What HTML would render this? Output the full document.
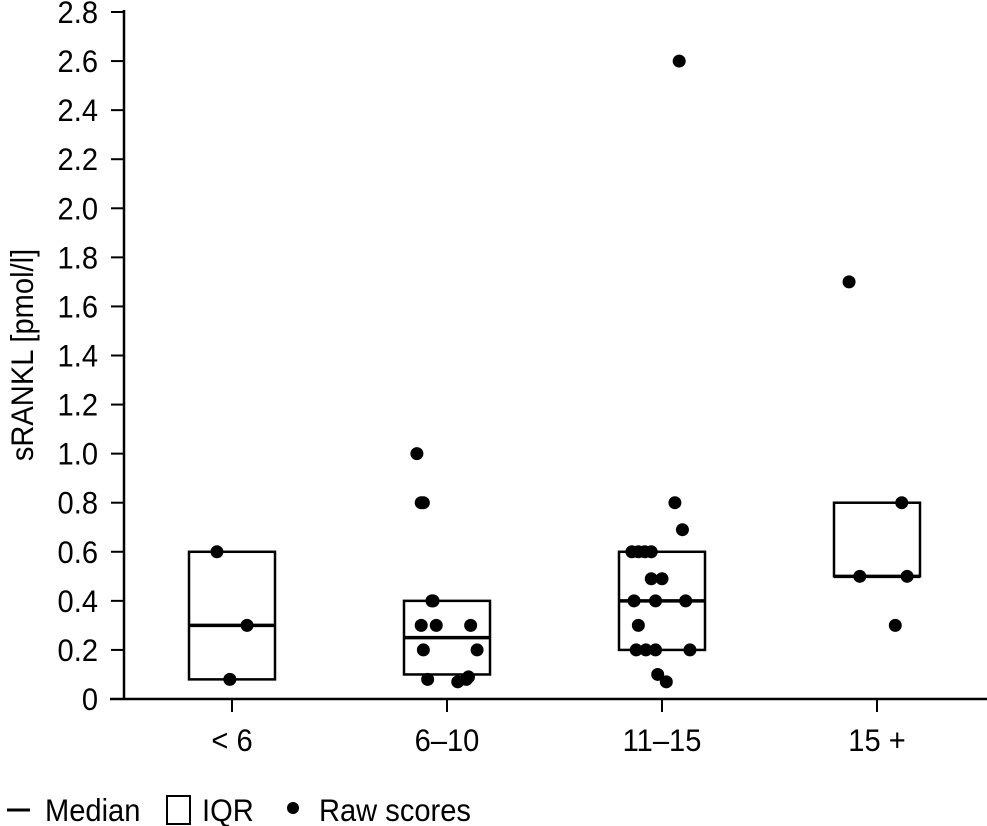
<!DOCTYPE html>
<html><head><meta charset="utf-8">
<style>
html,body{margin:0;padding:0;background:#fff;width:987px;height:826px;overflow:hidden}
svg text{font-family:"Liberation Sans Narrow","Liberation Sans",sans-serif;fill:#000}
</style></head>
<body>
<svg id="chart" width="987" height="826" viewBox="0 0 987 826" xmlns="http://www.w3.org/2000/svg"></svg>
<script>
const categories = ["< 6","6\u201310","11\u201315","15 +"];
const q1 = [0.08,0.10,0.20,0.50];
const q3 = [0.60,0.40,0.60,0.80];
const medians = [0.30,0.25,0.40,0.50];
const yTicks = [0,0.2,0.4,0.6,0.8,1.0,1.2,1.4,1.6,1.8,2.0,2.2,2.4,2.6,2.8];
const yTickLabels = ["0","0.2","0.4","0.6","0.8","1.0","1.2","1.4","1.6","1.8","2.0","2.2","2.4","2.6","2.8"];
// raw scores: category index, jitter (category units), value
const ptCat = [0,0,0,
 1,1,1,1,1,1,1,1,1,1,1,1,1,1,
 2,2,2,2,2,2,2,2,2,2,2,2,2,2,2,2,2,2,2,
 3,3,3,3,3];
const ptJit = [-0.07,0.07,-0.01,
 -0.14,-0.12,-0.11,-0.07,-0.065,-0.12,-0.05,0.11,-0.11,0.14,-0.09,0.05,0.09,0.10,
 0.08,0.06,0.095,-0.14,-0.11,-0.08,-0.05,-0.05,0.0,-0.13,-0.03,0.11,-0.11,-0.12,-0.075,-0.03,0.13,-0.02,0.02,
 -0.13,0.115,-0.08,0.14,0.085];
const ptVal = [0.6,0.3,0.08,
 1.0,0.8,0.8,0.4,0.4,0.3,0.3,0.3,0.2,0.2,0.08,0.07,0.08,0.09,
 2.6,0.8,0.69,0.6,0.6,0.6,0.6,0.49,0.49,0.4,0.4,0.4,0.3,0.2,0.2,0.2,0.2,0.1,0.07,
 1.7,0.8,0.5,0.5,0.3];

const svg = document.getElementById('chart');
const NS = "http://www.w3.org/2000/svg";
const y0 = 699, yTop = 12, yMax = 2.8;
function yScale(v){ return y0 - (v / yMax) * (y0 - yTop); }
const xStart = 232, xStep = 215;
function xScale(c){ return xStart + c * xStep; }
const boxHalf = 43;
function mk(tag, attrs){ const e = document.createElementNS(NS, tag); for (const k in attrs) e.setAttribute(k, attrs[k]); svg.appendChild(e); return e; }
function txt(x, y, s, anchor, rot){
  const t = mk('text',{x:0,y:0,'font-size':30,'text-anchor':anchor,
    transform:'translate('+x+','+y+')'+(rot?' rotate(-90)':'')+' scale(0.97,1.05)'});
  t.textContent = s;
  return t;
}

let e = mk('line',{x1:124,y1:yTop-2,x2:124,y2:y0,stroke:'#000','stroke-width':2.5});


e = mk('line',{x1:110,y1:y0,x2:987,y2:y0,stroke:'#000','stroke-width':2.5});



yTicks.forEach((v,i)=>{
  const y = yScale(v);
  const t = mk('line',{x1:111,y1:y,x2:124,y2:y,stroke:'#000','stroke-width':2});
  
  
  const l = txt(98, y+11, yTickLabels[i], 'end', false);
  
  
});

categories.forEach((c,i)=>{
  const x = xScale(i);
  const t = mk('line',{x1:x,y1:y0,x2:x,y2:y0+13,stroke:'#000','stroke-width':2});
  
  
  const l = txt(x, 751, c, 'middle', false);
  
  
  const b = mk('rect',{x:x-boxHalf,y:yScale(q3[i]),width:boxHalf*2,height:yScale(q1[i])-yScale(q3[i]),fill:'none',stroke:'#000','stroke-width':2.5});
  
  
  const m = mk('line',{x1:x-boxHalf,y1:yScale(medians[i]),x2:x+boxHalf,y2:yScale(medians[i]),stroke:'#000','stroke-width':3.5});
  
  
});

ptVal.forEach((v,i)=>{
  const p = mk('circle',{cx:xScale(ptCat[i]+ptJit[i]),cy:yScale(v),r:6.5,fill:'#000'});
  
  
});

e = txt(33, 355, 'sRANKL [pmol/l]', 'middle', true);



e = mk('line',{x1:7,y1:810,x2:30,y2:810,stroke:'#000','stroke-width':3});


e = txt(45, 821, 'Median', 'start', false);


e = mk('rect',{x:167,y:796,width:23,height:28,fill:'none',stroke:'#000','stroke-width':2});


e = txt(202, 821, 'IQR', 'start', false);


e = mk('circle',{cx:293,cy:808,r:6,fill:'#000'});


e = txt(319, 821, 'Raw scores', 'start', false);


</script>
</body></html>
